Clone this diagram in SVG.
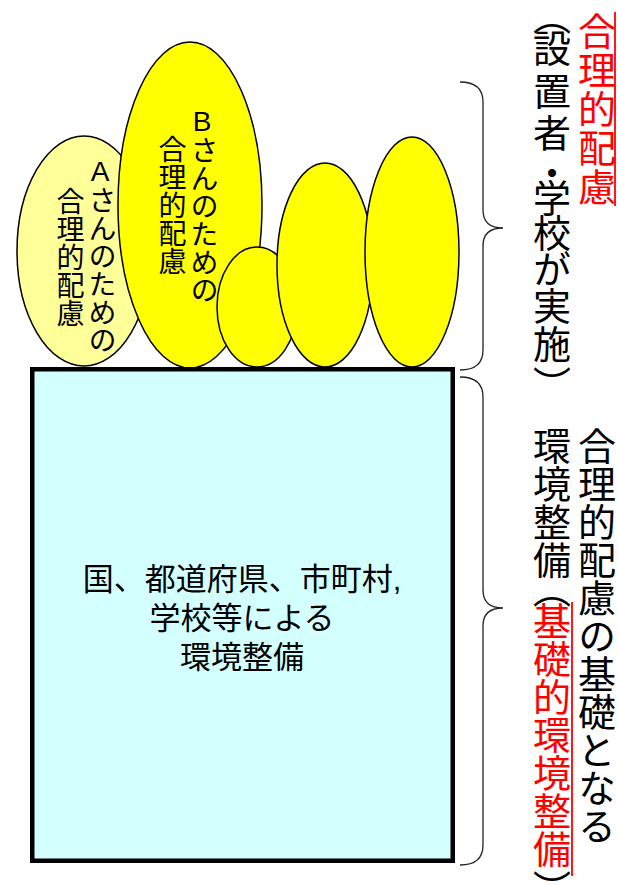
<svg xmlns="http://www.w3.org/2000/svg" width="618" height="885" viewBox="0 0 618 885">
<style>
text{font-family:"Liberation Sans","Noto Sans CJK JP",sans-serif;fill:#000}
.el{stroke:#000;stroke-width:1.5}
.y{fill:#FFFF00}
.ly{fill:#FFFF99}
.v{writing-mode:vertical-rl;text-orientation:mixed}
.vu{writing-mode:vertical-rl;text-orientation:upright}
.s{font-size:28px}
.b{font-size:38px;font-family:"Noto Sans CJK JP",sans-serif}
.red{fill:#FF0000}
.brace{fill:none;stroke:#222;stroke-width:1.3}
.ul{stroke:#FF0000;stroke-width:1.8}
</style>
<rect width="618" height="885" fill="#fff"/>
<g id="nodeA">
<ellipse class="el ly" cx="84" cy="251" rx="67" ry="115"/>
<text class="vu s" x="100" y="255" text-anchor="middle">Aさんのための</text>
<text class="vu s" x="68" y="257" text-anchor="middle">合理的配慮</text>
</g>
<g id="nodeB">
<ellipse class="el y" cx="190" cy="205" rx="72" ry="163"/>
<text class="vu s" x="202" y="205" text-anchor="middle">Bさんのための</text>
<text class="vu s" x="170" y="205" text-anchor="middle">合理的配慮</text>
</g>
<g id="node3"><ellipse class="el y" cx="257" cy="307" rx="40" ry="60"/></g>
<g id="node4"><ellipse class="el y" cx="325" cy="265" rx="48" ry="102"/></g>
<g id="node5"><ellipse class="el y" cx="412" cy="252" rx="47" ry="115"/></g>
<g id="base">
<rect x="32.25" y="369.25" width="420.5" height="491.5" fill="#D3FFFF" stroke="#000" stroke-width="4.5"/>
<text x="242" y="590" font-size="31" text-anchor="middle">国、都道府県、市町村,</text>
<text x="242" y="629" font-size="31" text-anchor="middle">学校等による</text>
<text x="242" y="668" font-size="31" text-anchor="middle">環境整備</text>
</g>
<g id="connectors">
<path class="brace" d="M460,82 Q483,82 483,102 L483,210 Q483,228 503,228 Q483,228 483,246 L483,350 Q483,370 460,370"/>
<path class="brace" d="M460,377 Q483,377 483,397 L483,590 Q483,608 503,608 Q483,608 483,626 L483,845 Q483,865 460,865"/>
</g>
<g id="label-top">
<text class="v b red" x="597" y="12 51 90 129 168">合理的配慮</text>
<line class="ul" x1="615" y1="12" x2="615" y2="206"/>
<text class="v b" x="552" y="-3 29 72 114 154 179 214 250 287 325 366">（設置者・学校が実施）</text>
</g>
<g id="label-bottom">
<text class="v b" x="597" y="427">合理的配慮の基礎となる</text>
<text class="v b" x="552" y="427 465 503 541 570 602 640 678 716 754 792 830 870">環境整備（<tspan class="red">基礎的環境整備</tspan>）</text>
<line class="ul" x1="572" y1="602" x2="572" y2="876"/>
</g>
</svg>
